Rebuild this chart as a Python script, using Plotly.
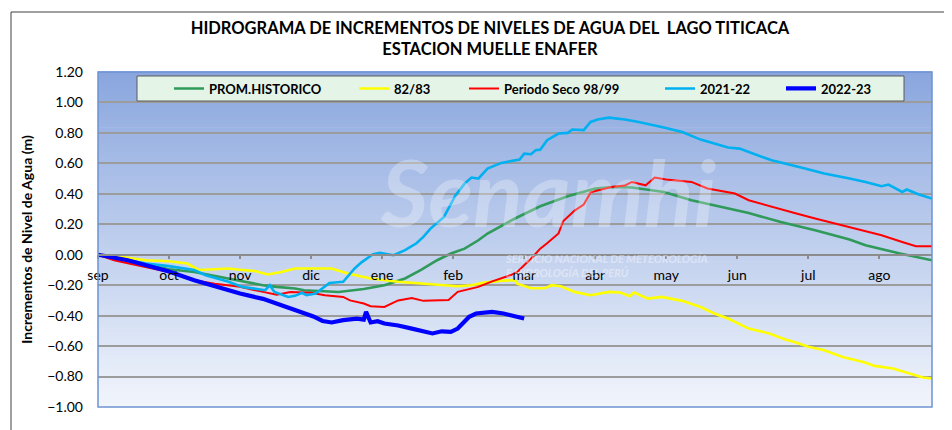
import plotly.graph_objects as go

# ---------------- data (day index from 1 Sep, value in m) ----------------
month_ticks = [0, 31, 62, 93, 124, 155, 186, 217, 248, 279, 310, 341]
month_labels = ["sep", "oct", "nov", "dic", "ene", "feb", "mar", "abr", "may", "jun", "jul", "ago"]
y_ticks = [-1.0, -0.8, -0.6, -0.4, -0.2, 0.0, 0.2, 0.4, 0.6, 0.8, 1.0, 1.2]

prom_days = [0, 10, 21, 31, 42, 57, 62, 72, 78, 86, 90, 99, 105, 116, 125, 134, 141, 148, 154, 160, 166,
             170, 182, 193, 205, 217, 225, 233, 247, 259, 275, 284, 298, 313, 328, 335, 350, 364]
prom_vals = [0.0, -0.03, -0.062, -0.095, -0.113, -0.156, -0.167, -0.2, -0.211, -0.222, -0.233, -0.24, -0.245,
             -0.225, -0.2, -0.156, -0.1, -0.036, 0.008, 0.04, 0.095,
             0.139, 0.238, 0.318, 0.384, 0.435, 0.445, 0.441, 0.412, 0.358, 0.303, 0.274, 0.215, 0.161, 0.1,
             0.062, 0.008, -0.036]

y8283_days = [0, 7, 21, 31, 39, 44, 51, 57, 63, 69, 74, 80, 86, 94, 102, 109, 119, 131, 145, 157, 163, 168,
              175, 182, 183, 189, 195, 198, 202, 208, 215, 223, 228, 232, 234, 240, 246, 250, 255, 263, 269,
              275, 284, 293, 300, 304, 310, 317, 325, 334, 339, 347, 355, 360, 364]
y8283_vals = [0.0, -0.008, -0.036, -0.043, -0.058, -0.1, -0.095, -0.09, -0.1, -0.108, -0.13, -0.113, -0.09,
              -0.09, -0.09, -0.123, -0.156, -0.178, -0.194, -0.207, -0.2, -0.185,
              -0.172, -0.167, -0.19, -0.22, -0.22, -0.2, -0.207, -0.244, -0.266, -0.244, -0.248, -0.272, -0.248,
              -0.288, -0.277, -0.288, -0.303, -0.343, -0.386,
              -0.419, -0.485, -0.517, -0.557, -0.573, -0.605, -0.627, -0.671, -0.704, -0.73, -0.747, -0.785,
              -0.806, -0.813]

seco_days = [0, 7, 13, 21, 31, 37, 42, 51, 62, 72, 78, 84, 93, 99, 107, 110, 116, 119, 125, 131, 137, 142,
             148, 153, 157, 166, 172, 180, 183, 186, 190, 193, 196, 201, 203, 208, 212, 215, 220, 224, 230,
             233, 239, 243, 248, 259, 266, 278, 284, 294, 304, 313, 322, 331, 342, 351, 357, 364]
seco_vals = [0.0, -0.036, -0.056, -0.08, -0.113, -0.146, -0.167, -0.19, -0.211, -0.244, -0.262, -0.245, -0.25,
             -0.266, -0.277, -0.3, -0.32, -0.338, -0.343, -0.3, -0.284, -0.303,
             -0.3, -0.298, -0.244, -0.211, -0.175, -0.135, -0.113, -0.07, -0.01, 0.04, 0.075, 0.14, 0.22,
             0.29, 0.33, 0.41, 0.43, 0.445, 0.455,
             0.478, 0.456, 0.507, 0.494, 0.478, 0.435, 0.402, 0.358, 0.314, 0.274, 0.238, 0.205, 0.172, 0.128,
             0.084, 0.056, 0.056]

y2122_days = [0, 21, 31, 42, 47, 57, 63, 73, 75, 77, 83, 86, 89, 91, 95, 101, 107, 110, 112, 115, 120, 123,
              129, 134, 139, 142, 145, 151, 156, 160, 163, 166, 170, 176, 182, 184, 186, 189, 191, 193, 196,
              201, 205, 207, 212, 215, 218, 223, 230, 236, 247, 255, 263, 275, 280, 284, 294, 306, 317, 328,
              335, 342, 345, 351, 353, 358, 364]
y2122_vals = [0.0, -0.058, -0.075, -0.1, -0.135, -0.178, -0.211, -0.233, -0.2, -0.244, -0.277, -0.27, -0.25,
              -0.266, -0.255, -0.185, -0.178, -0.123, -0.09, -0.05, 0.003, 0.012,
              -0.003, 0.03, 0.075, 0.117, 0.17, 0.248, 0.39, 0.467, 0.507, 0.5, 0.566, 0.603, 0.62, 0.625,
              0.664, 0.66, 0.686, 0.69, 0.752,
              0.796, 0.8, 0.822, 0.818, 0.872, 0.888, 0.9, 0.888, 0.872, 0.835, 0.806, 0.756, 0.704, 0.697,
              0.675, 0.62, 0.576, 0.533, 0.5,
              0.478, 0.45, 0.461, 0.412, 0.428, 0.397, 0.369]

y2223_days = [0, 13, 21, 31, 42, 57, 62, 72, 80, 89, 94, 98, 102, 107, 113, 116, 117, 119, 122, 125, 131,
              137, 142, 146, 150, 154, 157, 160, 162, 165, 172, 177, 182, 186]
y2223_vals = [0.0, -0.036, -0.069, -0.11, -0.167, -0.233, -0.255, -0.29, -0.33, -0.38, -0.405, -0.435, -0.445,
              -0.43, -0.42, -0.426, -0.375, -0.445, -0.437, -0.452, -0.465,
              -0.485, -0.502, -0.517, -0.503, -0.507, -0.485, -0.44, -0.408, -0.386, -0.375, -0.386, -0.404,
              -0.419]

series = [
    ("PROM.HISTORICO", prom_days, prom_vals, "#2f9a5a", 2.6),
    ("82/83", y8283_days, y8283_vals, "#ffff00", 2.6),
    ("Periodo Seco 98/99", seco_days, seco_vals, "#ff0000", 2.0),
    ("2021-22", y2122_days, y2122_vals, "#00b0f0", 2.6),
    ("2022-23", y2223_days, y2223_vals, "#0000ff", 4.2),
]

# ---------------- layout geometry (page px; page body adds an 8px offset) ----------------
OFF = 8
W, H = 944, 422
PL, PT, PR, PB = 98, 72, 932, 407        # plot area in page pixels
ML, MT = PL - OFF, PT - OFF
MR, MB = W - (PR - OFF), H - (PB - OFF)
PW = W - ML - MR
PH = H - MT - MB
FONT = "Lato, Carlito, Calibri, sans-serif"


def px_x(px):
    return (px - OFF - ML) / PW


def px_y(py):
    return 1 - (py - OFF - MT) / PH


fig = go.Figure()

legend_x_px = [169, 354, 464, 660, 781]
for i, (name, xs, ys, col, w) in enumerate(series):
    lg = "legend" if i == 0 else f"legend{i + 1}"
    fig.add_trace(go.Scatter(x=xs, y=ys, mode="lines", name=name,
                             line=dict(color=col, width=w), legend=lg, hoverinfo="skip"))

shapes = []
# gradient plot background (bands)
top_c = (138, 166, 222)
bot_c = (241, 245, 252)
N = 90
for k in range(N):
    t0 = k / N
    t1 = (k + 1) / N
    tm = (k + 0.5) / N
    c = tuple(int(round(bot_c[j] + (top_c[j] - bot_c[j]) * tm)) for j in range(3))
    shapes.append(dict(type="rect", xref="paper", yref="paper", x0=0, x1=1, y0=t0, y1=t1 + 0.002,
                       line=dict(width=0), fillcolor=f"rgb{c}", layer="below"))
# plot area border
shapes.append(dict(type="rect", xref="paper", yref="paper", x0=0, x1=1, y0=0, y1=1,
                   line=dict(color="#6d93d3", width=1.5), fillcolor="rgba(0,0,0,0)", layer="above"))
# outer chart border
shapes.append(dict(type="rect", xref="paper", yref="paper", x0=px_x(11), x1=px_x(950),
                   y0=px_y(445), y1=px_y(12), line=dict(color="#404040", width=1),
                   fillcolor="rgba(0,0,0,0)", layer="below"))
# legend box
shapes.append(dict(type="rect", xref="paper", yref="paper", x0=px_x(137), x1=px_x(904),
                   y0=px_y(101), y1=px_y(76), line=dict(color="#5a5a5a", width=1),
                   fillcolor="#e4f5e8", layer="above"))

annotations = [
    dict(text="<b><i>Senamhi</i></b>", x=px_x(548), y=px_y(192), xref="paper", yref="paper",
         showarrow=False, font=dict(family=FONT, size=92, color="rgba(255,255,255,0.28)")),
    dict(text="<b><i>SERVICIO NACIONAL DE METEOROLOGÍA<br>E HIDROLOGÍA DEL PERÚ</i></b>",
         x=px_x(503), y=px_y(265), xref="paper", yref="paper", xanchor="left", align="left",
         showarrow=False, font=dict(family=FONT, size=11, color="rgba(255,255,255,0.4)")),
]

layout_legends = {}
for i, lx in enumerate(legend_x_px):
    key = "legend" if i == 0 else f"legend{i + 1}"
    layout_legends[key] = dict(x=px_x(lx), y=px_y(88.5), xanchor="left", yanchor="middle",
                               orientation="h", bgcolor="rgba(0,0,0,0)", borderwidth=0,
                               font=dict(family=FONT, size=13, color="#000", weight="bold"),
                               itemclick=False, itemdoubleclick=False)

fig.update_layout(
    width=W, height=H,
    margin=dict(l=ML, r=MR, t=MT, b=MB, pad=0),
    paper_bgcolor="white",
    plot_bgcolor="rgba(0,0,0,0)",
    font=dict(family=FONT, color="#000"),
    showlegend=True,
    title=dict(text="<b>HIDROGRAMA DE INCREMENTOS DE NIVELES DE AGUA DEL  LAGO TITICACA<br>ESTACION MUELLE ENAFER</b>",
               x=(490 - OFF) / W, xanchor="center", y=1 - 26 / H, yanchor="top",
               font=dict(family=FONT, size=16.5, color="#000")),
    xaxis=dict(range=[0, 364], tickvals=month_ticks, ticktext=month_labels,
               anchor="free", position=1 / 2.2, showgrid=False, zeroline=False,
               showline=True, linecolor="#8c8c8c", linewidth=1.5,
               ticks="outside", ticklen=4, tickcolor="#8c8c8c", tickwidth=1.5,
               ticklabelstandoff=4,
               tickfont=dict(family=FONT, size=14, color="#000")),
    xaxis2=dict(range=[0, 364], tickvals=month_ticks, overlaying="x", anchor="free",
                position=1 / 2.2, side="top", showgrid=False, zeroline=False, showline=False,
                ticks="outside", ticklen=4, tickcolor="#8c8c8c", tickwidth=1.5,
                showticklabels=False),
    yaxis=dict(range=[-1.0, 1.2], tickvals=y_ticks, tickformat=".2f",
               showgrid=True, gridcolor="#9c9c9c", gridwidth=1.5, zeroline=False,
               ticks="", ticklabelstandoff=14,
               tickfont=dict(family=FONT, size=14, color="#000"),
               title=dict(text="<b>Incrementos de Nivel de Agua (m)</b>", standoff=11,
                          font=dict(family=FONT, size=14, color="#000"))),
    shapes=shapes,
    annotations=annotations,
    **layout_legends,
)

fig.write_html("out.html")
